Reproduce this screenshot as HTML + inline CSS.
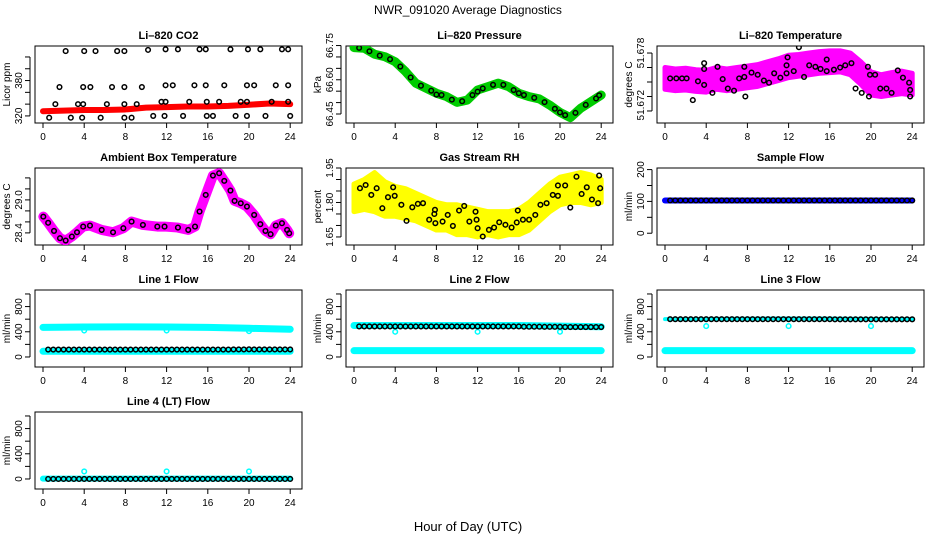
<!DOCTYPE html>
<html><head><meta charset="utf-8"><style>
html,body{margin:0;padding:0;background:#fff;}
svg{display:block;font-family:"Liberation Sans",Arial,sans-serif;}
</style></head><body>
<svg id="chart" width="936" height="540" viewBox="0 0 936 540" xmlns="http://www.w3.org/2000/svg">
<rect width="936" height="540" fill="#fff"/>
<text x="468" y="14" text-anchor="middle" font-size="12">NWR_091020  Average Diagnostics</text>
<text x="468" y="531" text-anchor="middle" font-size="13">Hour of Day (UTC)</text>
</svg>
<script>
const xTicks=[0,4,8,12,16,20,24];
// CO2
const co2BandH=[0,2,4,6,8,10,12,14,16,18,20,22,24];
const co2BandV=[328,329,330,330,331,334,335,336,336,337,339,341,340];
const co2PtsH=[2.2,4.0,5.1,7.2,7.9,10.2,11.9,13.1,15.2,15.8,18.2,19.9,21.1,23.2,23.8,1.6,3.9,4.6,6.7,7.9,9.6,11.9,12.6,14.7,15.8,17.6,19.8,20.5,22.6,23.8,1.2,3.4,3.9,6.2,7.9,9.1,11.5,11.9,14.2,15.9,17.1,19.2,19.8,22.2,23.8,0.6,2.7,3.8,5.6,7.9,8.6,10.7,11.8,13.6,15.9,16.5,18.7,19.8,21.6,24.0];
const co2PtsV=[430,430,430,430,430,432,433,433,433,433,433,433,433,433,433,369,369,369,369,369,369,372,372,372,372,372,372,372,372,372,340,340,340,340,340,340,344,344,344,344,344,344,344,344,344,317,317,317,317,317,317,320,320,320,320,320,320,320,320,320];
// Pressure
const presH=[0,1,2,3,4,5,6,7,8,9,10,11,12,13,14,15,16,17,18,19,20,21,22,23,24];
const presV=[66.741,66.738,66.712,66.701,66.679,66.636,66.585,66.563,66.541,66.526,66.501,66.511,66.555,66.570,66.585,66.570,66.541,66.526,66.516,66.489,66.457,66.434,66.475,66.504,66.533];
const presBlkH=[0.5,1.5,2.5,3.5,4.5,5.5,6.5,7.5,8,8.5,9.5,10.5,11.5,12,12.5,13.5,14.5,15.5,16,16.5,17.5,18.5,19.5,20,20.5,21.5,22.5,23.5,23.8];
const presBlkV=[66.740,66.725,66.706,66.690,66.658,66.610,66.574,66.552,66.535,66.533,66.513,66.506,66.533,66.548,66.562,66.578,66.578,66.555,66.541,66.533,66.521,66.502,66.473,66.457,66.445,66.455,66.490,66.518,66.532];
// Temperature
const tempH=[0,1,2,3,4,5,6,7,8,9,10,11,12,13,14,15,16,17,18,19,20,21,22,23,24];
const tempHi=[51.6760,51.6758,51.6759,51.6757,51.6756,51.6760,51.6758,51.6760,51.6762,51.6764,51.6768,51.6772,51.6777,51.6778,51.6780,51.6782,51.6783,51.6783,51.6780,51.6768,51.6754,51.6750,51.6753,51.6755,51.6752];
const tempLo=[51.6730,51.6728,51.6729,51.6727,51.6726,51.6730,51.6728,51.6730,51.6732,51.6734,51.6738,51.6742,51.6746,51.6748,51.6750,51.6752,51.6753,51.6754,51.6750,51.6737,51.6722,51.6720,51.6722,51.6724,51.6722];
const tempPtsH=[0.5,1.1,1.65,2.1,3.2,2.7,3.8,3.8,3.8,4.6,5.1,5.6,6.1,6.7,7.2,7.7,7.8,7.7,8.4,9.0,9.6,10.1,10.6,11.2,11.8,11.8,11.9,12.5,13.0,13.5,14.0,14.6,15.1,15.7,15.7,16.4,17.0,17.5,18.1,18.5,19.1,19.7,19.8,19.9,20.4,20.9,21.5,22.0,22.6,23.1,23.7,23.8,23.8];
const tempPtsV=[51.6745,51.6745,51.6745,51.6745,51.6741,51.6715,51.6766,51.6758,51.6736,51.6725,51.6761,51.6744,51.6731,51.6728,51.6745,51.6747,51.6720,51.6761,51.6753,51.6750,51.6742,51.6739,51.6752,51.6746,51.6752,51.6763,51.6774,51.6755,51.6788,51.6747,51.6763,51.6761,51.6758,51.6771,51.6755,51.6757,51.6760,51.6763,51.6766,51.6731,51.6725,51.6761,51.6720,51.6750,51.6750,51.6731,51.6731,51.6725,51.6756,51.6746,51.6739,51.6729,51.6720];
// Ambient
const ambH=[0.03,0.5,1.07,1.65,2.2,2.8,3.3,3.9,4.56,5.7,6.8,7.8,8.6,9.7,11.1,11.8,13.1,14.1,14.76,15.2,15.8,16.5,17.1,17.6,18.2,18.6,19.2,19.8,20.5,21.1,21.6,22.1,22.6,23.2,23.7,23.9];
const ambV=[28.696,28.584,28.436,28.303,28.261,28.333,28.412,28.515,28.533,28.454,28.412,28.485,28.606,28.545,28.515,28.515,28.497,28.454,28.515,28.788,29.091,29.443,29.485,29.346,29.170,28.982,28.939,28.879,28.727,28.558,28.436,28.376,28.533,28.576,28.454,28.394];
// RH
const rhBandH=[0,1,2,3,4,5,6,7,8,9,10,11,12,13,14,15,16,17,18,19,20,21,22,23,24];
const rhHi=[1.88,1.90,1.93,1.89,1.87,1.86,1.84,1.82,1.80,1.79,1.79,1.78,1.77,1.76,1.76,1.76,1.77,1.80,1.84,1.88,1.91,1.92,1.93,1.92,1.90];
const rhLo=[1.76,1.77,1.76,1.74,1.74,1.73,1.72,1.70,1.68,1.68,1.66,1.66,1.65,1.66,1.65,1.66,1.66,1.68,1.72,1.76,1.79,1.80,1.80,1.79,1.80];
const rhPtsH=[0.58,1.13,1.68,2.2,2.75,3.3,3.8,3.95,4.6,5.1,5.66,6.2,6.7,7.3,7.8,7.86,7.9,8.6,9.1,9.6,10.2,10.7,11.2,11.8,11.9,12.0,12.5,13.1,13.6,14.1,14.7,15.3,15.8,15.9,16.4,17.0,17.6,18.1,18.7,19.3,19.8,19.8,20.5,21.0,21.6,22.1,22.6,23.1,23.7,23.8,23.9];
const rhPtsV=[1.862,1.876,1.833,1.862,1.775,1.823,1.866,1.829,1.790,1.720,1.779,1.794,1.797,1.725,1.750,1.768,1.710,1.717,1.746,1.698,1.765,1.785,1.717,1.760,1.725,1.688,1.652,1.681,1.691,1.714,1.703,1.691,1.713,1.765,1.725,1.725,1.746,1.790,1.797,1.833,1.874,1.829,1.874,1.778,1.912,1.837,1.866,1.813,1.797,1.917,1.862];
// Flows
const flowH=[0.5,1,1.5,2,2.5,3,3.5,4,4.5,5,5.5,6,6.5,7,7.5,8,8.5,9,9.5,10,10.5,11,11.5,12,12.5,13,13.5,14,14.5,15,15.5,16,16.5,17,17.5,18,18.5,19,19.5,20,20.5,21,21.5,22,22.5,23,23.5,24];
const sampleBlk=[103,103,103,103,103,103,103,103,103,103,103,103,103,103,103,103,103,103,103,103,103,103,103,103,103,103,103,103,103,103,103,103,103,103,103,103,103,103,103,103,103,103,103,103,103,103,103,103];
const line1Blk=[118,118,118,118,118,118,118,118,118,118,118,118,118,118,118,118,118,118,118,118,118,118,118,118,118,118,118,118,118,118,118,118,118,118,118,118,120,120,120,122,120,120,120,120,120,120,120,120];
const line2Blk=[485,485,485,485,485,485,485,485,485,485,485,485,485,485,485,485,485,485,485,485,485,485,485,485,485,485,485,485,485,485,485,485,480,480,480,480,478,478,478,478,475,475,475,475,475,475,475,475];
const line3Blk=[600,600,600,600,600,600,600,600,600,600,600,600,600,600,600,600,600,600,600,600,600,600,600,600,600,600,600,600,600,600,600,600,598,598,598,598,598,598,598,598,598,598,598,598,598,598,598,598];
const line4Blk=[0,0,0,0,0,0,0,0,0,0,0,0,0,0,0,0,0,0,0,0,0,0,0,0,0,0,0,0,0,0,0,0,0,0,0,0,0,0,0,0,0,0,0,0,0,0,0,0];
const bandH=[0,4,8,12,16,20,24];
const line1Hi=[470,475,478,475,470,455,440];
const line1Lo=[90,90,90,90,90,90,90];
const line2Hi=[500,500,500,500,500,490,480];
const line2Lo=[100,100,100,100,100,100,100];
const line3Hi=[600,600,605,610,600,600,600];
const line3Lo=[100,100,100,100,100,100,100];
const line4Hi=[5,5,5,5,5,5,5];
const dipH=[4,12,20];
const line1Dip=[420,420,410];
const line2Dip=[400,400,400];
const line3Dip=[490,490,490];
const line4Dip=[120,120,120];

const NS='http://www.w3.org/2000/svg';
const svg=document.getElementById('chart');
const colL=[35,346,657], rowT=[46,168,290,412], PW=267, PH=77;
function mk(tag,attrs,parent){const e=document.createElementNS(NS,tag);for(const k in attrs)e.setAttribute(k,attrs[k]);(parent||svg).appendChild(e);return e;}
function panel(name,title,col,row,ymin,ymax,yTicks,yLabels,ytitle){
  const L=colL[col],T=rowT[row];
  const g=mk('g',{});
  
  
  const p={L,T,g,sx:h=>L+8+h*10.3,sy:v=>T+PH-(v-ymin)/(ymax-ymin)*PH};
  const t=mk('text',{x:L+PW/2,y:T-7,'text-anchor':'middle','font-size':11,'font-weight':'bold'},g);t.textContent=title;
  
  
  const box=mk('rect',{x:L,y:T,width:PW,height:PH,fill:'none',stroke:'#000','stroke-width':1},g);
  
  
  const xa=mk('g',{},g);
  
  
  mk('line',{x1:p.sx(0),x2:p.sx(24),y1:T+PH,y2:T+PH,stroke:'#000'},xa);
  xTicks.forEach(h=>{mk('line',{x1:p.sx(h),x2:p.sx(h),y1:T+PH,y2:T+PH+5,stroke:'#000'},xa);
    const tx=mk('text',{x:p.sx(h),y:T+PH+17,'text-anchor':'middle','font-size':10},xa);tx.textContent=h;});
  const ya=mk('g',{},g);
  
  
  mk('line',{x1:L-5,x2:L-5,y1:p.sy(yTicks[0]),y2:p.sy(yTicks[yTicks.length-1]),stroke:'#000'},ya);
  yTicks.forEach(v=>mk('line',{x1:L-5,x2:L-10,y1:p.sy(v),y2:p.sy(v),stroke:'#000'},ya));
  yLabels.forEach(l=>{const y=p.sy(l[0]);const tx=mk('text',{x:L-13,y:y,'text-anchor':'middle','font-size':10,transform:'rotate(-90 '+(L-13)+' '+y+')'},ya);tx.textContent=l[1];});
  const yt=mk('text',{x:L-25,y:T+PH/2,'text-anchor':'middle','font-size':10,transform:'rotate(-90 '+(L-25)+' '+(T+PH/2)+')'},g);yt.textContent=ytitle;
  
  
  const clip=mk('clipPath',{id:'c'+name},g);mk('rect',{x:L,y:T,width:PW,height:PH},clip);
  p.d=mk('g',{'clip-path':'url(#c'+name+')'},g);
  return p;
}
function band(p,hs,vs,color,w,name){
  const pl=mk('polyline',{points:hs.map((h,i)=>p.sx(h)+','+p.sy(vs[i])).join(' '),fill:'none',stroke:color,'stroke-width':w,'stroke-linejoin':'round','stroke-linecap':'round'},p.d);
  
  
}
function area(p,hs,hi,lo,color,name){
  const pts=hs.map((h,i)=>p.sx(h)+','+p.sy(hi[i])).concat(hs.slice().reverse().map((h,j)=>p.sx(h)+','+p.sy(lo[hs.length-1-j])));
  const pg=mk('polygon',{points:pts.join(' '),fill:color,stroke:color,'stroke-width':5,'stroke-linejoin':'round'},p.d);
  
  
}
function pts(p,hs,vs,color,name){
  hs.forEach((h,i)=>{const c=mk('circle',{cx:p.sx(h),cy:p.sy(vs[i]),r:2.3,fill:'none',stroke:color,'stroke-width':1.5},p.d);
    
    });
}
let p;
p=panel('co2-panel','Li\u2013820 CO2',0,0,308,438.6,[320,340,360,380,400,420],[[320,'320'],[380,'380']],'Licor ppm');
band(p,co2BandH,co2BandV,'#f00',6,'co2-red-series');pts(p,co2PtsH,co2PtsV,'#000','co2-black-point');
p=panel('pressure-panel','Li\u2013820 Pressure',1,0,66.4105,66.748,[66.45,66.5,66.55,66.6,66.65,66.7,66.75],[[66.45,'66.45'],[66.6,'66.60'],[66.75,'66.75']],'kPa');
band(p,presH,presV,'#0c0',9,'pressure-green-series');pts(p,presBlkH,presBlkV,'#000','pressure-black-point');
p=panel('temperature-panel','Li\u2013820 Temperature',2,0,51.66834,51.67897,[51.670,51.672,51.674,51.676,51.678],[[51.6708,'51.672'],[51.678,'51.678']],'degrees C');
area(p,tempH,tempHi,tempLo,'#f0f','temperature-magenta-cloud');pts(p,tempPtsH,tempPtsV,'#000','temperature-black-point');
p=panel('ambient-panel','Ambient Box Temperature',0,1,28.18,29.58,[28.4,28.6,28.8,29.0,29.2,29.4],[[28.4,'28.4'],[29.0,'29.0']],'degrees C');
band(p,ambH,ambV,'#f0f',10,'ambient-magenta-series');pts(p,ambH,ambV,'#000','ambient-black-point');
p=panel('rh-panel','Gas Stream RH',1,1,1.615,1.95,[1.65,1.7,1.75,1.8,1.85,1.9,1.95],[[1.65,'1.65'],[1.8,'1.80'],[1.95,'1.95']],'percent');
area(p,rhBandH,rhHi,rhLo,'#ff0','rh-yellow-cloud');pts(p,rhPtsH,rhPtsV,'#000','rh-black-point');
p=panel('sample-flow-panel','Sample Flow',2,1,-37,205,[0,50,100,150,200],[[0,'0'],[100,'100'],[200,'200']],'ml/min');
band(p,[0,24],[103,103],'#00f',6,'sample-blue-series');pts(p,flowH,sampleBlk,'#000','sample-black-point');
const fT=[0,200,400,600,800,1000],fL=[[0,'0'],[400,'400'],[800,'800']];
p=panel('line1-panel','Line 1 Flow',0,2,-159,1063,fT,fL,'ml/min');
band(p,bandH,line1Hi,'#0ff',7,'line1-cyan-high');band(p,bandH,line1Lo,'#0ff',7,'line1-cyan-low');pts(p,dipH,line1Dip,'#0ff','line1-cyan-dip');pts(p,flowH,line1Blk,'#000','line1-black-point');
p=panel('line2-panel','Line 2 Flow',1,2,-159,1063,fT,fL,'ml/min');
band(p,bandH,line2Hi,'#0ff',7,'line2-cyan-high');band(p,bandH,line2Lo,'#0ff',7,'line2-cyan-low');pts(p,dipH,line2Dip,'#0ff','line2-cyan-dip');pts(p,flowH,line2Blk,'#000','line2-black-point');
p=panel('line3-panel','Line 3 Flow',2,2,-159,1063,fT,fL,'ml/min');
band(p,bandH,line3Lo,'#0ff',7,'line3-cyan-low');band(p,[0,1,10,15,24],[600,600,610,610,600],'#0ff',4,'line3-cyan-high');pts(p,dipH,line3Dip,'#0ff','line3-cyan-dip');pts(p,flowH,line3Blk,'#000','line3-black-point');
p=panel('line4-panel','Line 4 (LT) Flow',0,3,-159,1063,fT,fL,'ml/min');
band(p,bandH,line4Hi,'#0ff',6,'line4-cyan');pts(p,dipH,line4Dip,'#0ff','line4-cyan-spike');pts(p,flowH,line4Blk,'#000','line4-black-point');
</script>
</body></html>
